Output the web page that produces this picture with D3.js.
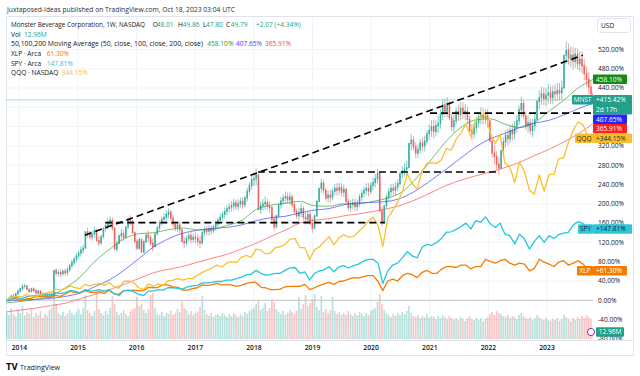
<!DOCTYPE html>
<html>
<head>
<meta charset="utf-8">
<script src="https://cdn.jsdelivr.net/npm/d3@7"></script>
<style>
  body { margin: 0; background: #fff; }
  svg { display: block; font-family: "Open Sans", sans-serif; }
</style>
</head>
<body>
<div id="chart"></div>
<script>

// ---------- data (percent change since first bar) ----------

// MNST weekly chart, one close every two weeks starting Oct 14 2013
const mnstClose = [
    0, 4, 9, 6, 14, 19, 24, 29, 30, 22,
    18, 24, 20, 15, 19, 13, 10, 12, 8, 11,
    9, 62, 56, 58, 55, 60, 57, 63, 72, 78,
    85, 92, 98, 104, 108, 142, 138, 131, 137, 145,
    124, 119, 132, 148, 155, 162, 166, 150, 106, 118,
    134, 138, 130, 152, 168, 164, 140, 122, 108, 126,
    100, 122, 135, 130, 118, 111, 138, 150, 160, 168,
    172, 178, 183, 170, 158, 150, 156, 146, 122, 119,
    128, 134, 126, 131, 128, 122, 119, 140, 146, 143,
    148, 144, 152, 158, 166, 172, 178, 184, 190, 193,
    196, 202, 195, 200, 205, 198, 212, 226, 238, 250,
    252, 260, 188, 196, 200, 203, 195, 192, 168, 152,
    175, 198, 206, 212, 215, 208, 214, 198, 184, 175,
    182, 190, 172, 168, 178, 160, 150, 175, 205, 232,
    243, 228, 212, 218, 214, 226, 232, 228, 234, 224,
    230, 205, 192, 198, 202, 194, 200, 214, 222, 228,
    232, 226, 238, 244, 252, 263, 185, 162, 196, 214,
    225, 232, 228, 235, 242, 262, 268, 272, 275, 325,
    332, 318, 305, 312, 326, 320, 330, 345, 352, 360,
    350, 362, 366, 385, 405, 392, 408, 378, 360, 372,
    392, 385, 398, 388, 392, 375, 352, 345, 358, 368,
    380, 385, 378, 382, 372, 330, 305, 298, 282, 274,
    310, 328, 342, 335, 352, 345, 360, 372, 395, 408,
    382, 362, 368, 352, 362, 375, 412, 420, 428, 418,
    425, 430, 420, 432, 428, 435, 430, 440, 508, 518,
    502, 508, 495, 510, 490, 500, 486, 470, 458, 442,
    428, 415
];

// high-low range of each bar (percentage points)
const mnstRange = [
    8, 10, 9, 12, 8, 11, 9, 13, 10, 9, 11, 8, 10, 12, 9, 8, 10, 9, 11, 8,
    10, 34, 16, 14, 17, 13, 15, 18, 16, 19, 17, 20, 18, 21, 19, 30, 22, 18, 21, 24,
    26, 20, 22, 24, 19, 23, 21, 28, 34, 22, 20, 24, 21, 23, 26, 20, 28, 24, 22, 25,
    30, 26, 21, 24, 22, 27, 23, 20, 22, 19, 21, 24, 20, 23, 25, 21, 22, 24, 28, 22,
    21, 19, 23, 20, 22, 24, 26, 28, 21, 19, 22, 20, 18, 21, 19, 22, 20, 23, 21, 19,
    22, 24, 20, 23, 21, 25, 24, 28, 26, 30, 28, 34, 40, 26, 24, 28, 23, 25, 32, 30,
    28, 30, 24, 22, 25, 23, 26, 28, 24, 22, 26, 28, 30, 26, 24, 28, 30, 32, 34, 28,
    30, 28, 26, 24, 27, 25, 23, 26, 24, 28, 25, 30, 26, 24, 22, 25, 23, 26, 24, 22,
    25, 27, 24, 26, 28, 30, 48, 40, 34, 30, 28, 26, 24, 27, 25, 29, 26, 28, 30, 44,
    34, 30, 32, 28, 31, 29, 33, 30, 32, 35, 38, 34, 36, 40, 44, 38, 42, 40, 36, 38,
    36, 34, 38, 35, 33, 36, 40, 34, 32, 35, 33, 36, 34, 32, 38, 44, 42, 40, 38, 36,
    40, 38, 36, 34, 37, 35, 38, 36, 40, 42, 40, 38, 36, 34, 38, 36, 44, 40, 38, 36,
    38, 40, 36, 38, 35, 37, 36, 40, 60, 46, 44, 42, 46, 40, 44, 42, 46, 44, 42, 46,
    40, 24
];

// volume (M), same two-week steps
const mnstVolume = [
    55, 48, 62, 50, 45, 58, 52, 66, 48, 54,
    50, 60, 44, 52, 47, 56, 42, 50, 46, 58,
    64, 92, 70, 52, 48, 55, 46, 50, 58, 52,
    48, 55, 60, 50, 62, 88, 58, 52, 47, 56,
    94, 60, 52, 48, 56, 50, 62, 86, 70, 54,
    48, 52, 58, 50, 46, 55, 60, 62, 84, 66,
    70, 58, 52, 60, 88, 92, 62, 50, 48, 54,
    46, 52, 50, 56, 48, 52, 60, 54, 76, 62,
    58, 50, 56, 48, 52, 55, 64, 86, 58, 50,
    46, 52, 44, 48, 50, 46, 52, 48, 44, 50,
    46, 52, 48, 44, 50, 46, 54, 50, 56, 60,
    62, 70, 78, 58, 62, 72, 56, 62, 80, 74,
    60, 54, 50, 56, 48, 52, 58, 54, 50, 56,
    84, 60, 70, 88, 66, 72, 80, 90, 64, 58,
    86, 54, 60, 52, 58, 84, 56, 50, 54, 48,
    52, 48, 56, 50, 46, 52, 48, 54, 50, 46,
    52, 48, 56, 60, 62, 74, 90, 70, 58, 52,
    48, 44, 50, 46, 52, 48, 54, 50, 56, 66,
    52, 46, 44, 48, 42, 46, 44, 50, 42, 46,
    44, 40, 46, 42, 48, 44, 40, 46, 42, 38,
    42, 38, 44, 40, 36, 42, 46, 40, 38, 42,
    38, 42, 36, 40, 44, 50, 54, 48, 56, 52,
    50, 46, 44, 48, 42, 46, 44, 40, 48, 52,
    46, 42, 40, 44, 38, 42, 48, 44, 40, 38,
    42, 38, 36, 40, 38, 42, 36, 40, 48, 44,
    40, 36, 42, 38, 44, 40, 46, 42, 48, 44,
    40, 13
];

// comparison symbols, monthly from Oct 2013
const spyPct = [
    0, 4, 6, 3, 7, 9, 9, 11, 13, 12,
    16, 14, 16, 20, 19, 15, 22, 19, 20, 22,
    19, 22, 14, 10, 20, 21, 18, 12, 10, 19,
    19, 22, 21, 26, 26, 25, 23, 28, 30, 31,
    36, 36, 37, 39, 39, 42, 42, 45, 48, 53,
    54, 62, 56, 52, 53, 56, 56, 62, 67, 68,
    56, 59, 42, 56, 61, 63, 70, 59, 69, 72,
    67, 72, 75, 81, 85, 85, 76, 35, 61, 73,
    77, 88, 101, 92, 88, 110, 116, 114, 120, 128,
    141, 142, 147, 153, 160, 148, 165, 162, 173, 158,
    151, 160, 137, 134, 117, 137, 127, 106, 122, 134,
    120, 134, 128, 136, 139, 141, 156, 163, 159, 147,
    148
];
const qqqPct = [
    0, 6, 8, 7, 12, 8, 7, 12, 15, 17,
    23, 21, 24, 30, 26, 24, 33, 30, 33, 35,
    31, 37, 28, 25, 39, 40, 37, 26, 22, 34,
    29, 34, 31, 40, 42, 45, 42, 45, 45, 52,
    58, 62, 67, 73, 69, 77, 80, 78, 89, 93,
    89, 106, 104, 96, 98, 109, 111, 116, 127, 128,
    109, 109, 85, 105, 111, 121, 132, 115, 129, 136,
    131, 132, 142, 152, 164, 172, 155, 112, 170, 186,
    203, 225, 262, 241, 230, 268, 284, 285, 284, 291,
    315, 311, 334, 347, 365, 339, 374, 382, 388, 345,
    325, 344, 284, 277, 244, 287, 266, 228, 220, 260,
    226, 261, 261, 293, 295, 327, 353, 370, 363, 339,
    344
];
const xlpPct = [
    0, 4, 3, -2, 3, 4, 7, 8, 7, 6,
    10, 8, 13, 19, 16, 16, 20, 17, 16, 18,
    14, 21, 13, 13, 20, 20, 21, 20, 20, 27,
    26, 27, 32, 32, 28, 27, 21, 21, 24, 26,
    32, 31, 32, 35, 32, 32, 32, 29, 31, 35,
    37, 37, 27, 26, 22, 22, 23, 28, 29, 29,
    29, 33, 22, 26, 31, 34, 37, 33, 39, 40,
    44, 47, 46, 49, 51, 51, 39, 20, 40, 44,
    40, 51, 56, 53, 47, 58, 62, 56, 56, 64,
    70, 70, 68, 73, 73, 65, 70, 70, 85, 80,
    77, 82, 85, 77, 73, 77, 75, 61, 66, 85,
    79, 75, 70, 79, 82, 73, 77, 82, 75, 64,
    61
];

// moving averages of MNST, every 3 months from Oct 2013
const ma50 = [-5, -2, 2, 9, 26, 48, 80, 105, 127, 138,
    140, 146, 150, 146, 147, 155, 165, 188, 197, 201,
    205, 196, 195, 200, 200, 205, 212, 225, 255, 293,
    330, 358, 374, 376, 365, 358, 368, 392, 414, 440, 458];
const ma100 = [0, 1, 2, 4, 8, 15, 28, 42, 62, 86,
    110, 127, 139, 145, 149, 151, 156, 165, 171, 174,
    181, 187, 190, 198, 202, 203, 205, 213, 229, 250,
    272, 295, 318, 335, 346, 358, 367, 373, 384, 397, 408];
const ma200 = [-24, -20, -16, -11, -6, 3, 12, 22, 33, 45,
    57, 64, 70, 79, 87, 95, 106, 118, 132, 145,
    160, 166, 169, 175, 179, 184, 190, 198, 210, 224,
    238, 249, 258, 266, 275, 286, 300, 313, 328, 345, 366];

// drawn trend lines: [date, percent] pairs
const trendLines = [
    [[new Date(2015, 1, 13), 135], [new Date(2023, 7, 12), 508]],
    [[new Date(2015, 5, 20), 161], [new Date(2020, 2, 27), 161]],
    [[new Date(2018, 0, 26), 266], [new Date(2022, 2, 13), 266]],
    [[new Date(2021, 0, 2), 388], [new Date(2023, 9, 18), 388]]
];

const priceTicks = d3.range(-80, 521, 40);
const yearTicks = d3.range(2014, 2024);

const lastMnst = 415.42, lastMa = [458.10, 407.65, 365.91];
const lastXlp = 61.30, lastSpy = 147.81, lastQqq = 344.15, lastVol = 12.96;

// ---------- helpers ----------
const biweekly = (i) => d3.timeDay.offset(new Date(2013, 9, 14), i * 14);
const monthly = (i) => new Date(2013, 9 + i, 14);
const quarterly = (i) => new Date(2013, 9 + i * 3, 14);

const W = 640, H = 376;
const plot = {left: 6, right: 593, top: 17, bottom: 340};

const colors = {
    up: "#26a69a", down: "#ef5350",
    ma50: "#2f9e2f", ma100: "#3a3aff", ma200: "#ff4a4a",
    spy: "#26c6da", xlp: "#f57c00", qqq: "#fbc02d",
    text: "#131722", grid: "#f0f3fa", border: "#e0e3eb", teal: "#22a08a"
};

const x = d3.scaleTime()
    .domain([new Date(2015, 0, 1), new Date(2023, 0, 1)])
    .range([78, 547]);
const y = d3.scaleLinear().domain([0, 520]).range([300.3, 49.4]);
const vy = d3.scaleLinear().domain([0, 100]).range([339, 289]);

const svg = d3.select("#chart").append("svg")
    .attr("width", W).attr("height", H);

const defs = svg.append("defs");
defs.append("clipPath").attr("id", "plotClip").append("rect")
    .attr("x", plot.left).attr("y", plot.top)
    .attr("width", plot.right - plot.left).attr("height", plot.bottom - plot.top);
defs.append("clipPath").attr("id", "axisClip").append("rect")
    .attr("x", plot.right).attr("y", plot.top)
    .attr("width", W - plot.right).attr("height", plot.bottom - plot.top);

// header
svg.append("text")
    .attr("x", 7).attr("y", 12)
    .attr("font-size", 7.2).attr("fill", "#2a2e39")
    .attr("textLength", 228).attr("lengthAdjust", "spacingAndGlyphs")
    .text("Juxtaposed-Ideas published on TradingView.com, Oct 18, 2023 03:04 UTC");

// frame
svg.append("rect")
    .attr("x", 6.5).attr("y", 16.5).attr("width", 627).attr("height", 339)
    .attr("fill", "none").attr("stroke", colors.border);
svg.append("line")
    .attr("x1", 6).attr("x2", 634).attr("y1", 340.5).attr("y2", 340.5)
    .attr("stroke", colors.border);

// plot layers
const g = svg.append("g").attr("clip-path", "url(#plotClip)");

// grid
g.selectAll(".hgrid").data(priceTicks).join("line")
    .attr("x1", plot.left).attr("x2", plot.right)
    .attr("y1", d => y(d)).attr("y2", d => y(d))
    .attr("stroke", colors.grid);
g.selectAll(".vgrid").data(yearTicks).join("line")
    .attr("x1", d => x(new Date(d, 0, 1))).attr("x2", d => x(new Date(d, 0, 1)))
    .attr("y1", plot.top).attr("y2", plot.bottom)
    .attr("stroke", colors.grid);

// candles with open = previous close
const candles = mnstClose.map((c, i) => {
    const open = i === 0 ? c : mnstClose[i - 1];
    const ext = Math.max(0, mnstRange[i] - Math.abs(c - open)) / 2;
    return {
        date: biweekly(i),
        open: open,
        close: c,
        high: Math.max(open, c) + ext,
        low: Math.min(open, c) - ext,
        vol: mnstVolume[i]
    };
});
const candleColor = d => d.close >= d.open ? colors.up : colors.down;

// volume
g.selectAll(".vol").data(candles).join("rect")
    .attr("x", d => x(d.date) - 0.85)
    .attr("width", 1.7)
    .attr("y", d => vy(d.vol))
    .attr("height", d => vy(0) - vy(d.vol))
    .attr("fill", candleColor)
    .attr("opacity", 0.33);

// zero line and last price line
g.append("line")
    .attr("x1", plot.left).attr("x2", plot.right)
    .attr("y1", y(0)).attr("y2", y(0))
    .attr("stroke", "#c5c7cf").attr("stroke-width", 1);
g.append("line")
    .attr("x1", plot.left).attr("x2", plot.right)
    .attr("y1", y(lastMnst)).attr("y2", y(lastMnst))
    .attr("stroke", "#9ad8cd").attr("stroke-width", 0.8);

// candles
g.selectAll(".wick").data(candles).join("line")
    .attr("x1", d => x(d.date)).attr("x2", d => x(d.date))
    .attr("y1", d => y(d.high)).attr("y2", d => y(d.low))
    .attr("stroke", candleColor).attr("stroke-width", 0.7)
    .attr("opacity", 0.8);
g.selectAll(".candle").data(candles).join("rect")
    .attr("x", d => x(d.date) - 0.8)
    .attr("width", 1.6)
    .attr("y", d => y(Math.max(d.open, d.close)) - 0.5)
    .attr("height", d => Math.abs(y(d.open) - y(d.close)) + 1)
    .attr("fill", candleColor)
    .attr("opacity", 0.85);

// lines
const line = d3.line().x(d => x(d[0])).y(d => y(d[1]));
const smooth = d3.line().x(d => x(d[0])).y(d => y(d[1])).curve(d3.curveMonotoneX);

[[ma200, colors.ma200], [ma100, colors.ma100], [ma50, colors.ma50]].forEach(([arr, col]) => {
    g.append("path")
        .datum(arr.map((v, i) => [quarterly(i), v]))
        .attr("d", smooth)
        .attr("fill", "none").attr("stroke", col)
        .attr("stroke-width", 0.9).attr("opacity", 0.75);
});

[[xlpPct, colors.xlp], [spyPct, colors.spy], [qqqPct, colors.qqq]].forEach(([arr, col]) => {
    g.append("path")
        .datum(arr.map((v, i) => [monthly(i), v]))
        .attr("d", line)
        .attr("fill", "none").attr("stroke", col)
        .attr("stroke-width", 1.3).attr("stroke-linejoin", "round");
});

// trend lines
g.selectAll(".trend").data(trendLines).join("line")
    .attr("x1", d => x(d[0][0])).attr("y1", d => y(d[0][1]))
    .attr("x2", d => x(d[1][0])).attr("y2", d => y(d[1][1]))
    .attr("stroke", "#000").attr("stroke-width", 1.6)
    .attr("stroke-dasharray", "7,4");

// price tags (pushed down when they overlap, like the price scale does)
const tags = [
    {v: lastMa[0], label: lastMa[0].toFixed(2) + "%", bg: "#138a13", fg: "#fff", w: 34},
    {v: lastMnst, label: "+" + lastMnst.toFixed(2) + "%", sub: "2d 17h", name: "MNST", nameW: 21, bg: colors.teal, fg: "#fff", w: 39},
    {v: lastMa[1], label: lastMa[1].toFixed(2) + "%", bg: "#2424ff", fg: "#fff", w: 34},
    {v: lastMa[2], label: lastMa[2].toFixed(2) + "%", bg: "#ff1f1f", fg: "#fff", w: 34},
    {v: lastQqq, label: "+" + lastQqq.toFixed(2) + "%", name: "QQQ", nameW: 18, bg: "#fbbd2e", fg: "#2a2a2a", w: 39},
    {v: lastSpy, label: "+" + lastSpy.toFixed(2) + "%", name: "SPY", nameW: 15, bg: "#2ec5d8", fg: "#10262c", w: 39},
    {v: lastXlp, label: "+" + lastXlp.toFixed(2) + "%", name: "XLP", nameW: 16, bg: colors.xlp, fg: "#fff", w: 34}
];
let prevBottom = -Infinity;
tags.forEach(t => {
    t.h = t.sub ? 19.5 : 9.5;
    t.top = Math.max(y(t.v) - 4.75, prevBottom);
    prevBottom = t.top + t.h;
});

// price scale labels, hidden where a tag covers them
const hidden = d => tags.some(t => y(d) > t.top - 1 && y(d) < t.top + t.h + 1 &&
    Math.abs(y(d) - (t.top + t.h / 2)) < t.h / 2 + 0.5);
svg.append("g").attr("clip-path", "url(#axisClip)")
    .selectAll("text").data(priceTicks.filter(d => !hidden(d))).join("text")
    .attr("x", 598).attr("y", d => y(d)).attr("dy", "0.35em")
    .attr("font-size", 6.6).attr("fill", colors.text)
    .text(d => d3.format(".2f")(d).replace("−", "-") + "%");

// time labels
svg.selectAll(".year").data(yearTicks).join("text")
    .attr("x", d => x(new Date(d, 0, 1))).attr("y", 349.5)
    .attr("text-anchor", "middle").attr("font-size", 6.8)
    .attr("font-weight", 600).attr("fill", colors.text)
    .text(d => d);

const tagG = svg.append("g");
tags.forEach(t => {
    tagG.append("rect")
        .attr("x", plot.right).attr("y", t.top)
        .attr("width", t.w).attr("height", t.h)
        .attr("rx", 1).attr("fill", t.bg);
    tagG.append("text")
        .attr("x", plot.right + 3).attr("y", t.top + 4.75).attr("dy", "0.35em")
        .attr("font-size", 6.6).attr("fill", t.fg).text(t.label);
    if (t.sub) {
        tagG.append("text")
            .attr("x", plot.right + 3).attr("y", t.top + 14.5).attr("dy", "0.35em")
            .attr("font-size", 6.6).attr("fill", t.fg).text(t.sub);
    }
    if (t.name) {
        tagG.append("rect")
            .attr("x", plot.right - t.nameW).attr("y", t.top)
            .attr("width", t.nameW).attr("height", 9.5)
            .attr("rx", 1).attr("fill", t.bg);
        tagG.append("text")
            .attr("x", plot.right - t.nameW / 2).attr("y", t.top + 4.75).attr("dy", "0.35em")
            .attr("text-anchor", "middle")
            .attr("font-size", 6.4).attr("fill", t.fg).text(t.name);
    }
});

// volume tag and event marker
tagG.append("rect")
    .attr("x", 596).attr("y", vy(lastVol) - 5.2)
    .attr("width", 28).attr("height", 9.5).attr("rx", 1).attr("fill", colors.teal);
tagG.append("text")
    .attr("x", 610).attr("y", vy(lastVol) - 0.45).attr("dy", "0.35em")
    .attr("text-anchor", "middle").attr("font-size", 6.6).attr("fill", "#fff")
    .text(lastVol.toFixed(2) + "M");
tagG.append("circle")
    .attr("cx", 591).attr("cy", vy(lastVol) - 0.5).attr("r", 3.6)
    .attr("fill", "#fff").attr("stroke", "#9c27b0").attr("stroke-width", 1);

// currency button
svg.append("rect")
    .attr("x", 597.5).attr("y", 18.5).attr("width", 33).attr("height", 14).attr("rx", 3)
    .attr("fill", "#fff").attr("stroke", colors.border);
svg.append("text")
    .attr("x", 601).attr("y", 25.5).attr("dy", "0.35em")
    .attr("font-size", 6.6).attr("fill", colors.text).text("USD");

// legend
const legend = svg.append("g").attr("font-size", 6.6);
const legendRows = [
    {yy: 25, parts: [
        ["Monster Beverage Corporation, 1W, NASDAQ", 11, colors.text, 134],
        ["O", 152.7, colors.text], ["48.01", 156.7, colors.teal],
        ["H", 178, colors.text], ["49.86", 182.7, colors.teal],
        ["L", 203, colors.text], ["47.80", 206, colors.teal],
        ["C", 226, colors.text], ["49.79", 230.7, colors.teal],
        ["+2.07 (+4.34%)", 256, colors.teal]]},
    {yy: 34.5, parts: [["Vol", 11, colors.text], ["12.96M", 24, colors.teal]]},
    {yy: 44, parts: [
        ["50,100,200 Moving Average (50, close, 100, close, 200, close)", 11, colors.text, 192],
        [lastMa[0].toFixed(2) + "%", 207.3, "#2a9d2a"],
        [lastMa[1].toFixed(2) + "%", 236, "#4646ff"],
        [lastMa[2].toFixed(2) + "%", 265, "#ff4040"]]},
    {yy: 53.7, parts: [["XLP · Arca", 11, colors.text], [lastXlp.toFixed(2) + "%", 46.7, colors.xlp]]},
    {yy: 63.3, parts: [["SPY · Arca", 11, colors.text], [lastSpy.toFixed(2) + "%", 46.7, colors.spy]]},
    {yy: 73, parts: [["QQQ · NASDAQ", 11, colors.text], [lastQqq.toFixed(2) + "%", 61.7, colors.qqq]]}
];
legendRows.forEach(r => {
    r.parts.forEach(p => {
        const t = legend.append("text")
            .attr("x", p[1]).attr("y", r.yy).attr("dy", "0.35em")
            .attr("fill", p[2]).text(p[0]);
        if (p[3]) t.attr("textLength", p[3]).attr("lengthAdjust", "spacingAndGlyphs");
    });
});

// footer
svg.append("text")
    .attr("x", 6).attr("y", 370)
    .attr("font-size", 8).attr("font-weight", 800).attr("fill", colors.text)
    .attr("font-family", "DejaVu Sans")
    .text("TV");
svg.append("text")
    .attr("x", 20).attr("y", 369.5)
    .attr("font-size", 7).attr("fill", colors.text)
    .text("TradingView");

</script>
</body>
</html>
